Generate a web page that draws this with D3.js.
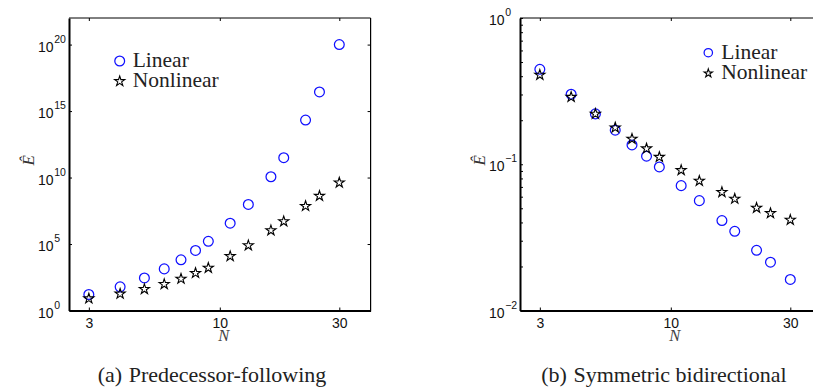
<!DOCTYPE html>
<html>
<head>
<meta charset="utf-8">
<script src="https://cdn.jsdelivr.net/npm/d3@7"></script>
<style>
  html, body { margin: 0; padding: 0; background: #fff; }
  svg { display: block; }
</style>
</head>
<body>
<svg id="fig" width="813" height="392"></svg>
<script>
// Number of vehicles in the platoon
const N = [3, 4, 5, 6, 7, 8, 9, 11, 13, 16, 18, 22, 25, 30];

// (a) Predecessor-following: amplification measure Ê
const linearPF    = [1.6e1, 6.0e1, 2.8e2, 1.35e3, 6.5e3, 3.3e4, 1.6e5, 3.7e6, 9.5e7, 1.15e10, 3.1e11, 2.1e14, 2.75e16, 1.0e20];
const nonlinearPF = [7.9e0, 1.8e1, 4.0e1, 9.5e1, 2.4e2, 6.5e2, 1.6e3, 1.2e4, 7.8e4, 1.05e6, 5.0e6, 7.1e7, 4.1e8, 4.1e9];

// (b) Symmetric bidirectional: amplification measure Ê
const linearSB    = [0.446, 0.301, 0.221, 0.171, 0.1355, 0.1135, 0.0959, 0.0714, 0.0564, 0.0412, 0.0348, 0.0258, 0.0214, 0.0163];
const nonlinearSB = [0.408, 0.288, 0.221, 0.178, 0.149, 0.128, 0.112, 0.091, 0.0769, 0.0644, 0.058, 0.0503, 0.0462, 0.0416];

// Axis ticks
const xTicks    = [3, 10, 30];
const xDomain   = [2.5, 40];
const yTicksPF  = [1e0, 1e5, 1e10, 1e15, 1e20];
const yDomainPF = [1e0, 1e22];
const yTicksSB  = [1e-2, 1e-1, 1e0];
const yDomainSB = [1e-2, 1e0];
const yMinorSB  = [0.02,0.03,0.04,0.05,0.06,0.07,0.08,0.09,0.2,0.3,0.4,0.5,0.6,0.7,0.8,0.9];

const seriesNames = ["Linear", "Nonlinear"];
const captions = [["(a)", "Predecessor-following"], ["(b)", "Symmetric bidirectional"]];

const SANS  = "Liberation Sans";
const SERIF = "Liberation Serif";

const svg = d3.select("#fig");
const BLUE = "#1010ff";
const starSym = d3.symbol().type(d3.symbolStar);

function sansText(sel, size) {
  return sel.style("font-family", SANS).style("font-size", size + "px").attr("fill", "#111");
}
function serifText(sel, size) {
  return sel.style("font-family", SERIF).style("font-size", size + "px").attr("fill", "#222");
}
function circleMark(sel, r) {
  sel.append("circle").attr("r", r)
    .attr("fill", "none").attr("stroke", BLUE).attr("stroke-width", 1.25);
}
function starMark(sel, size) {
  sel.append("path").attr("d", starSym.size(size)())
    .attr("fill", "none").attr("stroke", "#000").attr("stroke-width", 1.1)
    .attr("stroke-linejoin", "miter");
}

function panel(opt) {
  const x = d3.scaleLog().domain(xDomain).range([opt.left, opt.left + 301.6]);
  const y = d3.scaleLog().domain(opt.yDomain).range([310.5, 18]);
  const g = svg.append("g");
  const [x0, x1] = x.range();
  const [yb, yt] = y.range();

  // frame: thin top/right, heavier left/bottom
  g.append("line").attr("x1", x0).attr("x2", x1).attr("y1", yt).attr("y2", yt)
    .attr("stroke", "#000").attr("stroke-width", 1);
  g.append("line").attr("x1", x1).attr("x2", x1).attr("y1", yt).attr("y2", yb)
    .attr("stroke", "#000").attr("stroke-width", 1.2);

  // bottom axis
  const xb = g.append("g").attr("transform", `translate(0,${yb})`)
    .call(d3.axisBottom(x).tickValues(xTicks).tickFormat(d3.format("d"))
      .tickSizeInner(-3).tickSizeOuter(0).tickPadding(8));
  xb.attr("font-family", null);
  xb.select(".domain").attr("stroke", "#000").attr("stroke-width", 2);
  sansText(xb.selectAll(".tick text"), 14);

  // top axis ticks only
  const xt = g.append("g").attr("transform", `translate(0,${yt})`)
    .call(d3.axisTop(x).tickValues(xTicks).tickFormat("").tickSizeInner(-3).tickSizeOuter(0));
  xt.select(".domain").remove();

  // left axis with 10^k labels
  const yl = g.append("g").attr("transform", `translate(${x0},0)`)
    .call(d3.axisLeft(y).tickValues(opt.yTicks).tickFormat("").tickSizeInner(-3).tickSizeOuter(0));
  yl.attr("font-family", null);
  yl.select(".domain").attr("stroke", "#000").attr("stroke-width", 2);
  yl.selectAll(".tick").each(function (d) {
    const t = d3.select(this);
    const e = Math.round(Math.log10(d));
    sansText(t.append("text").attr("x", -15.5).attr("y", 6.5).attr("text-anchor", "end"), 14).text("10");
    sansText(t.append("text").attr("x", -14.8).attr("y", -2.5).attr("text-anchor", "start"), 10.5)
      .text(e < 0 ? "\u2212" + (-e) : String(e));
  });
  if (opt.yMinor) {
    g.append("g").attr("transform", `translate(${x0},0)`)
      .call(d3.axisLeft(y).tickValues(opt.yMinor).tickFormat("").tickSizeInner(-3).tickSizeOuter(0))
      .select(".domain").remove();
  }
  // right axis ticks only
  const yr = g.append("g").attr("transform", `translate(${x1},0)`)
    .call(d3.axisRight(y).tickValues(opt.yTicks).tickFormat("").tickSizeInner(-3).tickSizeOuter(0));
  yr.select(".domain").remove();

  // axis titles
  serifText(g.append("text"), 16.5)
    .attr("x", (x0 + x1) / 2 + 4).attr("y", 341)
    .attr("text-anchor", "middle").style("font-style", "italic")
    .attr("fill", "#444").text("N");
  serifText(g.append("text"), 17)
    .attr("transform", `translate(${x0 - 35.5},${(yb + yt) / 2 - 4}) rotate(-90)`)
    .attr("text-anchor", "middle").style("font-style", "italic")
    .attr("fill", "#333").text("\u00CA");

  // data markers
  const pts = g.append("g");
  N.forEach((n, i) => {
    circleMark(pts.append("g").attr("transform", `translate(${x(n)},${y(opt.lin[i])})`), 4.9);
  });
  N.forEach((n, i) => {
    starMark(pts.append("g").attr("transform", `translate(${x(n)},${y(opt.non[i])})`), 32);
  });

  // legend
  const lg = g.append("g").attr("transform", `translate(${opt.legend[0]},${opt.legend[1]})`);
  circleMark(lg.append("g"), opt.legendR);
  starMark(lg.append("g").attr("transform", `translate(0,${opt.legendDy})`), opt.legendStar);
  seriesNames.forEach((s, i) => {
    serifText(lg.append("text"), 21.5).attr("x", 13).attr("y", 6 + i * opt.legendDy).text(s);
  });

  // caption
  const cap = serifText(svg.append("text"), 22)
    .attr("x", opt.capX).attr("y", 381.5).attr("text-anchor", "middle");
  cap.append("tspan").text(opt.caption[0]);
  cap.append("tspan").attr("dx", "0.3em").text(opt.caption[1]);
}

panel({ left: 69, yDomain: yDomainPF, yTicks: yTicksPF, lin: linearPF, non: nonlinearPF,
        legend: [119.7, 61], legendDy: 20.3, legendR: 4.9, legendStar: 32,
        capX: 212, caption: captions[0] });
panel({ left: 520, yDomain: yDomainSB, yTicks: yTicksSB, yMinor: yMinorSB, lin: linearSB, non: nonlinearSB,
        legend: [708.3, 52.7], legendDy: 20.6, legendR: 4.2, legendStar: 22,
        capX: 664, caption: captions[1] });
</script>
</body>
</html>
